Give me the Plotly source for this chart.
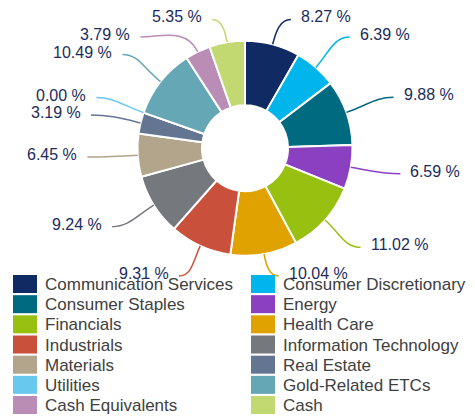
import math
import plotly.graph_objects as go

categories = ["Communication Services", "Consumer Discretionary", "Consumer Staples",
              "Energy", "Financials", "Health Care", "Industrials",
              "Information Technology", "Materials", "Real Estate", "Utilities",
              "Gold-Related ETCs", "Cash Equivalents", "Cash"]
values = [8.27, 6.39, 9.88, 6.59, 11.02, 10.04, 9.31, 9.24, 6.45, 3.19, 0.00, 10.49, 3.79, 5.35]
colors = ["#102b64", "#00b5eb", "#006b80", "#8a40c0", "#98c010", "#e0a200",
          "#c9503a", "#75787d", "#b3a48c", "#647592", "#68c8ee", "#66a7b5",
          "#b98db5", "#c2d870"]
label_texts = [f"{v:.2f} %" for v in values]

W, H = 475, 416
CX, CY, R = 245.0, 148.2, 107.5
HOLE = 0.4
LABEL_CY_SHIFT = -3.5
RX, RY = 166.0, 150.0
YMIN, YMAX = 17.0, 273.5
GAP = 17.5
CLAMP_X_FACTOR = 0.65
LABEL_COLOR = "#1b2b5b"
FONT = "Liberation Sans, Arial, sans-serif"


def px(x):
    return x / W


def py(y):
    return 1 - y / H


fig = go.Figure()
fig.add_trace(go.Pie(
    labels=categories, values=values, sort=False, direction="clockwise", rotation=0,
    hole=HOLE, textinfo="none", showlegend=False,
    marker=dict(colors=colors, line=dict(color="white", width=2)),
    domain=dict(x=[px(CX - R), px(CX + R)], y=[py(CY + R), py(CY - R)]),
))

# --- label layout computed from the values ---
total = sum(values)
cum = 0.0
items = []
for i, v in enumerate(values):
    th = 2 * math.pi * (cum + v / 2) / total
    cum += v
    s, c = math.sin(th), math.cos(th)
    y0 = CY + LABEL_CY_SHIFT - RY * c
    yc = min(max(y0, YMIN), YMAX)
    items.append(dict(i=i, th=th, s=s, c=c, y0=y0, y=yc, clamp=abs(yc - y0),
                      right=s >= 0))

for side in (True, False):
    grp = sorted([it for it in items if it["right"] == side], key=lambda d: d["y0"])
    for k in range(1, len(grp)):
        if grp[k]["y"] < grp[k - 1]["y"] + GAP:
            grp[k]["y"] = grp[k - 1]["y"] + GAP
            grp[k]["pushed"] = True
    for k in range(len(grp) - 2, -1, -1):
        if grp[k]["y"] > grp[k + 1]["y"] - GAP:
            grp[k]["y"] = grp[k + 1]["y"] - GAP
            grp[k]["pushed"] = True

shapes = []
annotations = []
for it in items:
    sgn = 1 if it["right"] else -1
    off = RX * abs(it["s"]) + CLAMP_X_FACTOR * it["clamp"]
    if it.get("pushed"):
        cphi = (CY + LABEL_CY_SHIFT - it["y"]) / RY
        cphi = max(-1.0, min(1.0, cphi))
        off = max(off, RX * math.sqrt(1 - cphi * cphi))
    tx = CX + sgn * off
    ty = it["y"]
    ex, ey = tx - sgn * 8, ty + 2.5
    sx, sy = CX + R * it["s"], CY - R * it["c"]
    dist = math.hypot(ex - sx, ey - sy)
    c1x, c1y = sx + it["s"] * dist * 0.45, sy - it["c"] * dist * 0.45
    c2x, c2y = ex - sgn * dist * 0.35, ey
    path = (f"M{px(sx)},{py(sy)} C{px(c1x)},{py(c1y)} {px(c2x)},{py(c2y)} "
            f"{px(ex)},{py(ey)}")
    shapes.append(dict(type="path", xref="paper", yref="paper", path=path,
                       line=dict(color=colors[it["i"]], width=1.5), layer="above"))
    annotations.append(dict(
        x=px(tx), y=py(ty), xref="paper", yref="paper", showarrow=False,
        text=label_texts[it["i"]], xanchor="left" if it["right"] else "right",
        yanchor="middle", font=dict(family=FONT, size=16, color=LABEL_COLOR)))

# --- legend (two columns, row-major) ---
LEG_TOP, LEG_PITCH = 275.0, 20.17
COL_X = [13.0, 251.0]
for i, name in enumerate(categories):
    row, col = divmod(i, 2)
    top = LEG_TOP + row * LEG_PITCH
    x0 = COL_X[col]
    shapes.append(dict(type="rect", xref="paper", yref="paper",
                       x0=px(x0), x1=px(x0 + 24), y0=py(top + 18), y1=py(top),
                       fillcolor=colors[i], line=dict(width=0)))
    annotations.append(dict(
        x=px(x0 + 30), y=py(top + 9.5), xref="paper", yref="paper", showarrow=False,
        text=name, xanchor="left", yanchor="middle",
        font=dict(family=FONT, size=17, color="#404040")))

fig.update_layout(
    width=W, height=H, margin=dict(l=0, r=0, t=0, b=0),
    paper_bgcolor="white", plot_bgcolor="white",
    shapes=shapes, annotations=annotations, showlegend=False,
)
fig.write_html("out.html")
